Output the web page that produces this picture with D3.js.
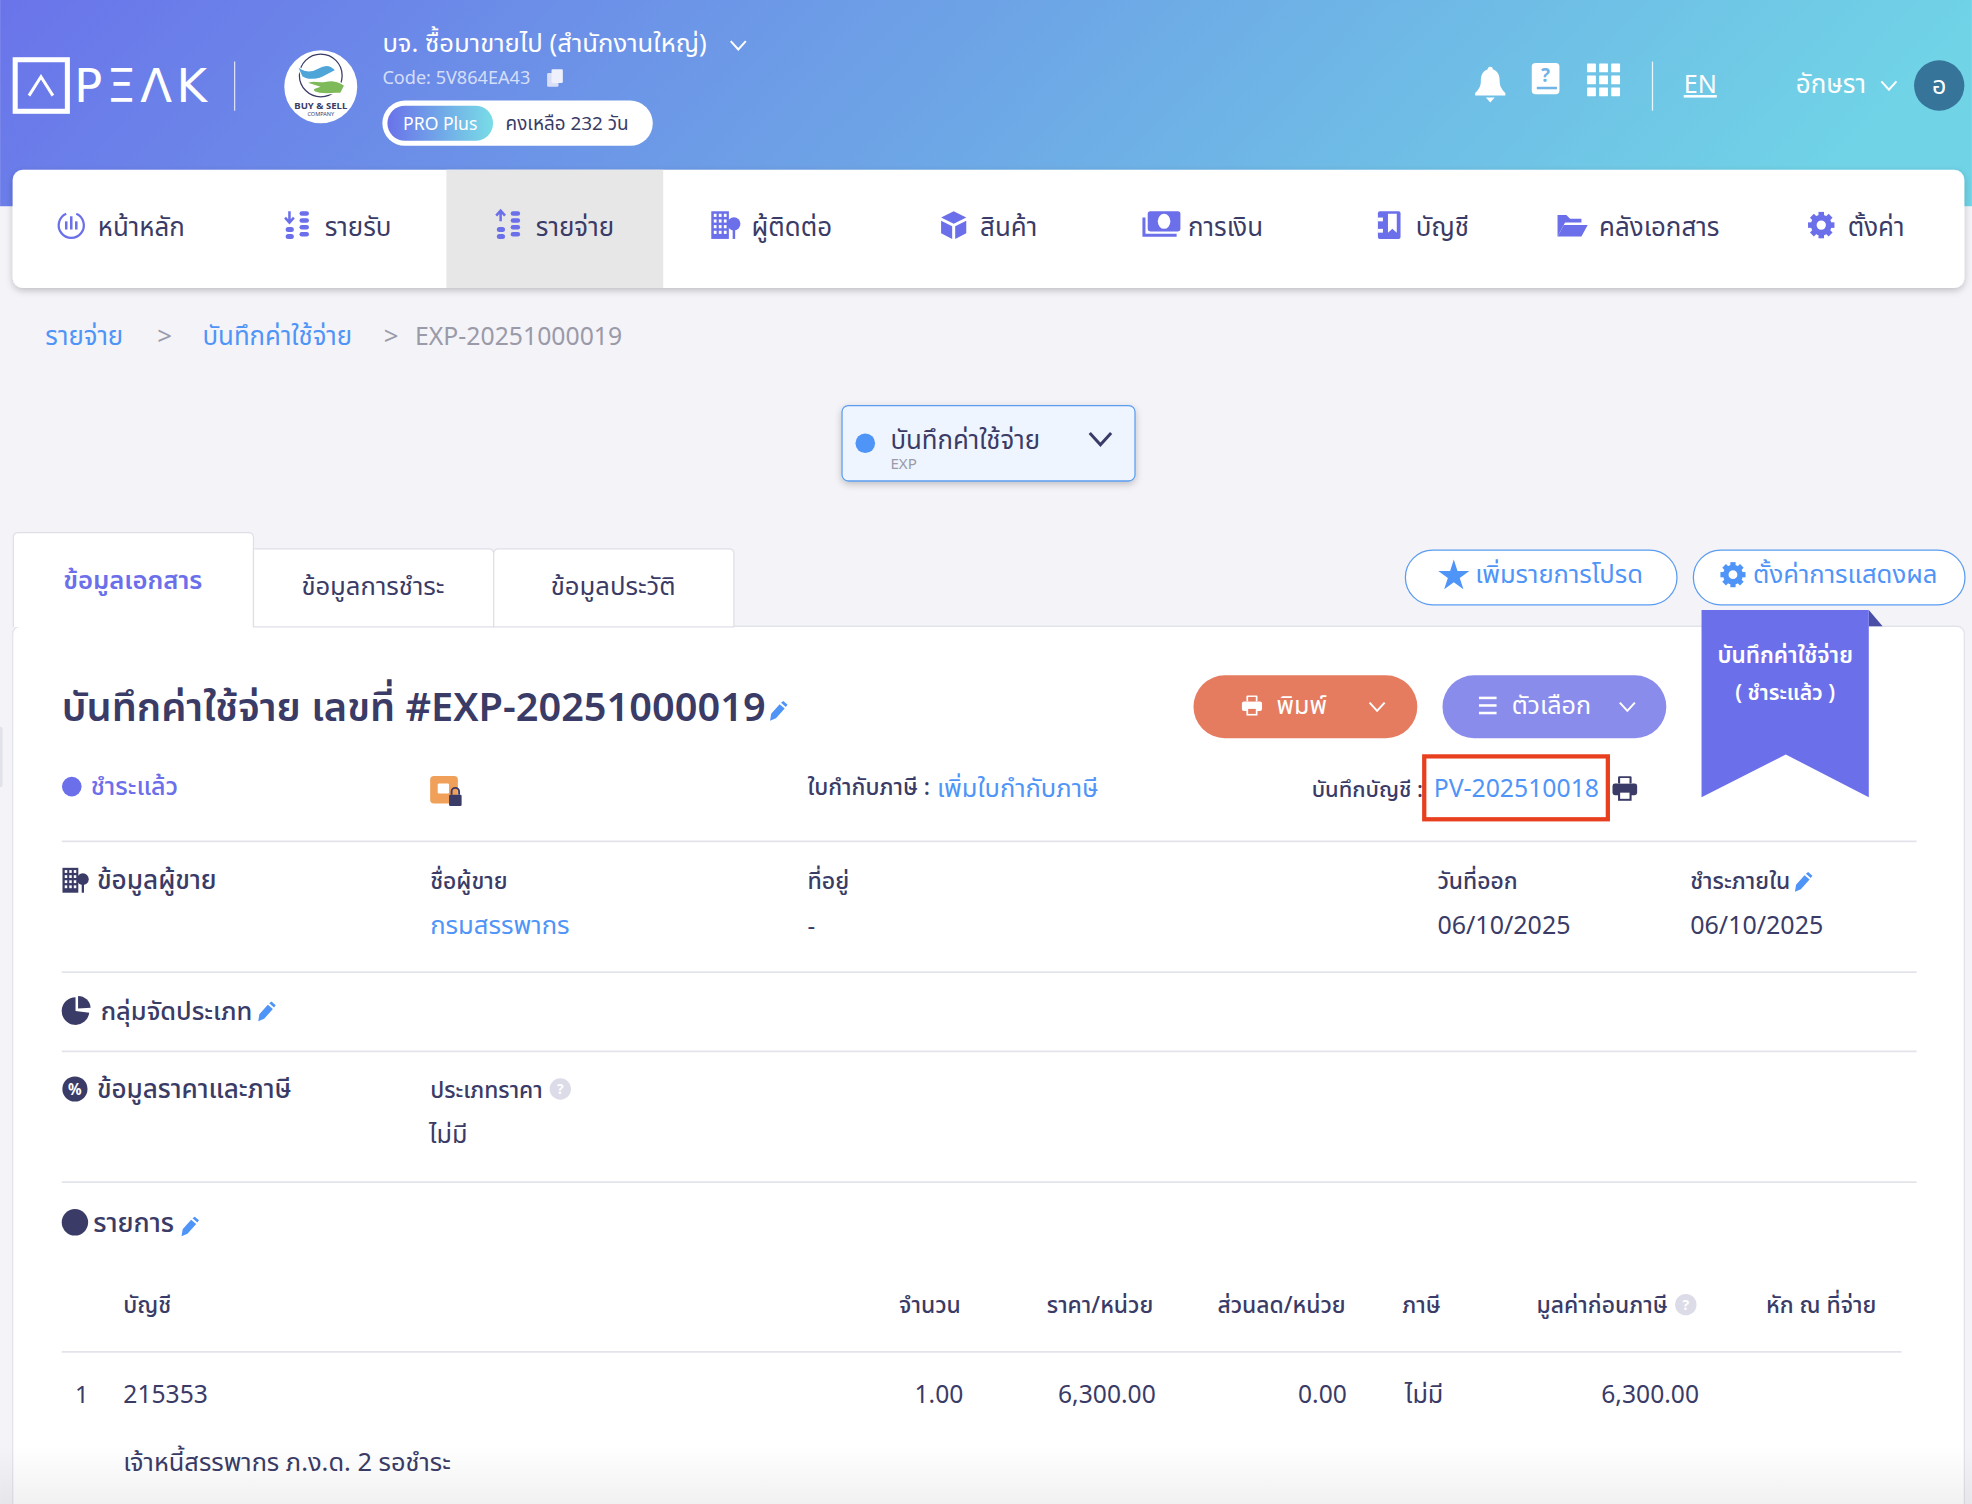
<!DOCTYPE html>
<html>
<head>
<meta charset="utf-8">
<script src="https://cdn.jsdelivr.net/npm/d3@7"></script>
<style>
html, body { margin: 0; padding: 0; background: #f3f3f8; overflow: hidden; }
svg { display: block; }
text { font-family: "Noto Sans", "Noto Sans Thai", "Open Sans", sans-serif; }
</style>
</head>
<body>
<div id="chart-area"></div>
<script>
// values
var companyName = "บจ. ซื้อมาขายไป (สำนักงานใหญ่)";
var companyCode = "Code: 5V864EA43";
var planName = "PRO Plus";
var planLeft = "คงเหลือ 232 วัน";
var navLabels = ["หน้าหลัก", "รายรับ", "รายจ่าย", "ผู้ติดต่อ", "สินค้า", "การเงิน", "บัญชี", "คลังเอกสาร", "ตั้งค่า"];
var navIcons = ["dash", "down", "up", "build", "box", "money", "book", "folder", "gear"];
var activeNav = "รายจ่าย";
var crumbs = ["รายจ่าย", ">", "บันทึกค่าใช้จ่าย", ">", "EXP-20251000019"];
var tabLabels = ["ข้อมูลเอกสาร", "ข้อมูลการชำระ", "ข้อมูลประวัติ"];
var docNo = "EXP-20251000019";
var headers = ["บัญชี", "จำนวน", "ราคา/หน่วย", "ส่วนลด/หน่วย", "ภาษี", "มูลค่าก่อนภาษี", "หัก ณ ที่จ่าย"];
var rowValues = ["215353", "1.00", "6,300.00", "0.00", "ไม่มี", "6,300.00", ""];
var rowNote = "เจ้าหนี้สรรพากร ภ.ง.ด. 2 รอชำระ";

var W = 1568, H = 1196;
var ink = "#3a3b66", blue = "#4f94f7", violet = "#6b6fea", rule = "#e3e3ec", grey = "#9a9aa8";

var svg = d3.select("#chart-area").append("svg")
    .attr("width", 1972)
    .attr("height", 1504)
    .attr("viewBox", "0 0 " + W + " " + H);

var defs = svg.append("defs");

function gradient(id, stops, x2, y2) {
    var g = defs.append("linearGradient").attr("id", id)
        .attr("x1", 0).attr("y1", 0).attr("x2", x2).attr("y2", y2);
    stops.forEach(function (s) {
        g.append("stop").attr("offset", s[0]).attr("stop-color", s[1]).attr("stop-opacity", s[2] === undefined ? 1 : s[2]);
    });
}
gradient("head", [[0, "#6a74ea"], [0.5, "#6da3e6"], [1, "#70d3e6"]], 1, 0.1);
gradient("pill", [[0, "#6a72ea"], [1, "#78dde6"]], 1, 0);
gradient("fade", [[0, "#000", 0], [1, "#000", 0.055]], 0, 1);

var shadow = defs.append("filter").attr("id", "shadow")
    .attr("x", "-5%").attr("y", "-20%").attr("width", "110%").attr("height", "140%");
shadow.append("feDropShadow").attr("dx", 0).attr("dy", 2).attr("stdDeviation", 3)
    .attr("flood-color", "#000").attr("flood-opacity", 0.22);

function label(p, x, y, txt, size, fill, anchor, weight) {
    return p.append("text")
        .attr("x", x).attr("y", y)
        .attr("font-size", size)
        .attr("fill", fill)
        .attr("text-anchor", anchor || "start")
        .attr("font-weight", weight || 400)
        .text(txt);
}

function box(p, x, y, w, h, r, fill) {
    return p.append("rect").attr("x", x).attr("y", y).attr("width", w).attr("height", h)
        .attr("rx", r).attr("fill", fill);
}

function line(p, x1, x2, y, color) {
    p.append("line").attr("x1", x1).attr("x2", x2).attr("y1", y).attr("y2", y)
        .attr("stroke", color || rule).attr("stroke-width", 1.4);
}

function chevron(p, cx, cy, s, color, sw) {
    p.append("path")
        .attr("d", "M" + (cx - s) + "," + (cy - s * 0.55) + "L" + cx + "," + (cy + s * 0.55) + "L" + (cx + s) + "," + (cy - s * 0.55))
        .attr("fill", "none").attr("stroke", color).attr("stroke-width", sw || 1.6);
}

function at(p, x, y, s) {
    return p.append("g").attr("transform", "translate(" + x + "," + y + ") scale(" + (s || 1) + ")");
}

function gear(p, x, y, s, color) {
    var g = at(p, x, y, s);
    d3.range(8).forEach(function (i) {
        g.append("rect").attr("x", -2.2).attr("y", -10.5).attr("width", 4.4).attr("height", 5)
            .attr("fill", color).attr("transform", "rotate(" + i * 45 + ")");
    });
    g.append("circle").attr("r", 6).attr("fill", "none").attr("stroke", color).attr("stroke-width", 4.6);
}

function star(p, x, y, s, color) {
    at(p, x, y, 1).append("path")
        .attr("d", d3.symbol(d3.symbolStar).size(s)())
        .attr("fill", color);
}

function printer(p, x, y, s, color, hole) {
    var g = at(p, x, y, s);
    box(g, -5.5, -10, 11, 6, 1, color);
    box(g, -10, -4, 20, 9.5, 2, color);
    box(g, -5.5, 2, 11, 8, 0, color);
    box(g, -3.8, -8.5, 7.6, 4.5, 0, hole);
    box(g, -3.8, 3.4, 7.6, 5, 0, hole);
}

function pencil(p, x, y) {
    at(p, x, y, 1.12).append("path")
        .attr("d", "M-6,6.4L-5.2,1.4L0.8,-5.4L4.4,-2.4L-1.8,4.6ZM1.8,-6.4L3.4,-7.6L6.4,-5L5.2,-3.4Z")
        .attr("fill", blue);
}

function help(p, x, y) {
    p.append("circle").attr("cx", x).attr("cy", y).attr("r", 8.5).attr("fill", "#dcdce8");
    label(p, x, y + 4, "?", 11, "#fff", "middle", 700);
}

function building(p, x, y, s, color) {
    var g = at(p, x, y, s);
    g.append("path")
        .attr("d", "M-11,-11H3V11H-11Z")
        .attr("fill", color);
    d3.range(3).forEach(function (c) {
        d3.range(4).forEach(function (r) {
            box(g, -9 + c * 4, -9 + r * 4.5, 2.2, 2.5, 0, "#fff");
        });
    });
    g.append("circle").attr("cx", 7).attr("cy", -1).attr("r", 5.2).attr("fill", color);
    box(g, 6, 2, 2, 9, 0, color);
}

var icons = {
    dash: function (g) {
        g.append("path").attr("d", "M-4,-9A10,10 0 1 0 4,-9").attr("fill", "none").attr("stroke", violet).attr("stroke-width", 1.8);
        [[-4, 3], [0, 7], [4, 3]].forEach(function (b) {
            box(g, b[0] - 1, -b[1], 2, b[1] + 3.5, 0, violet);
        });
    },
    down: function (g) { stacks(g, 1); },
    up: function (g) { stacks(g, -1); },
    build: function (g) { building(g, 0, 0, 1, violet); },
    box: function (g) {
        g.append("path").attr("d", "M0,-11L10,-6L0,-1L-10,-6Z").attr("fill", violet);
        g.append("path").attr("d", "M-10,-3.5L-1.2,1V11L-10,6.5ZM10,-3.5L1.2,1V11L10,6.5Z").attr("fill", violet);
    },
    money: function (g) {
        box(g, -11, -11, 26, 16, 2, violet);
        g.append("ellipse").attr("cx", 2).attr("cy", -3).attr("rx", 5).attr("ry", 6).attr("fill", "#fff");
        g.append("path").attr("d", "M-14,-6V8H12").attr("fill", "none").attr("stroke", violet).attr("stroke-width", 2.4);
    },
    book: function (g) {
        box(g, -9, -11, 18, 22, 1.5, violet);
        g.append("path").attr("d", "M-1,-9H6V6L2.5,3L-1,6Z").attr("fill", "#fff");
        box(g, -9, -6, 4, 3, 0, "#fff");
        box(g, -9, 3, 4, 3, 0, "#fff");
    },
    folder: function (g) {
        g.append("path").attr("d", "M-12,9V-8H-5L-2,-5H7V-2H-6L-12,9Z").attr("fill", violet);
        g.append("path").attr("d", "M-7,0H12L7,9H-12Z").attr("fill", violet);
    },
    gear: function (g) { gear(g, 0, 0, 1, violet); }
};

function stacks(g, dir) {
    g.append("path")
        .attr("d", dir > 0 ? "M-7,-11V-3M-10.5,-6L-7,-2L-3.5,-6" : "M-7,-3V-11M-10.5,-7.5L-7,-11.5L-3.5,-7.5")
        .attr("fill", "none").attr("stroke", violet).attr("stroke-width", 2);
    [1.5, 7].forEach(function (y) { box(g, -10, y, 6.5, 4, 2, violet); });
    [-11, -5.5, 0, 5.5].forEach(function (y) { box(g, 1, y, 7.5, 3.6, 1.8, violet); });
}

// header band
svg.append("rect").attr("width", W).attr("height", 164).attr("fill", "url(#head)");

// logo
var logo = svg.append("g");
logo.append("rect").attr("x", 12).attr("y", 47.5).attr("width", 41.5).attr("height", 41)
    .attr("fill", "none").attr("stroke", "#fff").attr("stroke-width", 4);
logo.append("path").attr("d", "M23,76L32.5,61L42,76").attr("fill", "none").attr("stroke", "#fff").attr("stroke-width", 2.4);
label(logo, 59, 81, "PΞΛK", 37, "#fff").attr("letter-spacing", 3.4).style("font-family", "DejaVu Sans");
logo.append("line").attr("x1", 186.5).attr("x2", 186.5).attr("y1", 49).attr("y2", 88).attr("stroke", "#fff").attr("stroke-opacity", 0.75);

// company badge
var badge = at(svg, 255, 69, 1);
badge.append("circle").attr("r", 29).attr("fill", "#fff");
badge.append("circle").attr("cy", -9).attr("r", 17).attr("fill", "none").attr("stroke", "#3a3b66").attr("stroke-width", 1);
badge.append("path").attr("d", "M-19,-17C-13,-11 -7,-12 -2,-15C3,-18 8,-18 12,-13L4,-9C-2,-5 -11,-5 -15,-8Z")
    .attr("fill", "#4fa4d8").attr("stroke", "#fff").attr("stroke-width", 1);
badge.append("path").attr("d", "M19,-1C13,-6 7,-5 2,-4C-3,-4 -8,-6 -11,-3L-2,0C-6,1 -7,2 -5,4C1,7 12,5 16,5Z")
    .attr("fill", "#7fba5a").attr("stroke", "#fff").attr("stroke-width", 1);
label(badge, 0, 17.5, "BUY & SELL", 7.6, ink, "middle", 700);
label(badge, 0, 23.5, "COMPANY", 4.4, ink, "middle", 400);

// company text
label(svg, 304, 41, companyName, 20.4, "#fff");
chevron(svg, 587, 36, 6, "#fff", 1.6);
label(svg, 304, 67, companyCode, 14.4, "#fff").attr("fill-opacity", 0.72);
var copy = at(svg, 441, 62, 1);
box(copy, -6, -4, 9, 11, 1, "#d9dff7");
box(copy, -2.5, -7, 9, 11, 1, "#eef1fb");
box(svg, 304, 80, 215, 36, 18, "#fff");
box(svg, 308, 84, 84, 28, 14, "url(#pill)");
label(svg, 350, 103, planName, 14, "#fff", "middle");
label(svg, 402, 103, planLeft, 15, ink);

// right of header
var bell = at(svg, 1185, 66, 1);
bell.append("path").attr("d", "M0,-13C1.5,-13 2,-12 2,-11C7,-9 7.5,-5 7.5,-1C7.5,3 10,6 12,8V10H-12V8C-10,6 -7.5,3 -7.5,-1C-7.5,-5 -7,-9 -2,-11C-2,-12 -1.5,-13 0,-13Z").attr("fill", "#fff");
bell.append("path").attr("d", "M-3.5,11.5H3.5L0,15.5Z").attr("fill", "#fff");
var guide = at(svg, 1229, 62, 1);
box(guide, -11, -12, 22, 25, 3, "#fff");
box(guide, -7, 7, 16, 2, 0, "#71b4e6");
label(guide, 0, 3, "?", 15, "#71b4e6", "middle", 700);
var apps = at(svg, 1275, 63, 1);
d3.range(3).forEach(function (c) {
    d3.range(3).forEach(function (r) {
        box(apps, -13 + c * 9.6, -12.5 + r * 9.5, 7, 7, 0.5, "#fff");
    });
});
svg.append("line").attr("x1", 1314).attr("x2", 1314).attr("y1", 49).attr("y2", 88).attr("stroke", "#fff").attr("stroke-opacity", 0.85);
label(svg, 1352, 74, "EN", 20, "#fff", "middle").attr("text-decoration", "underline");
label(svg, 1428, 74, "อักษรา", 20.6, "#fff");
chevron(svg, 1502, 68, 6, "#fff", 1.6);
svg.append("circle").attr("cx", 1542).attr("cy", 68).attr("r", 20).attr("fill", "#36749a");
label(svg, 1542, 75, "อ", 20, "#fff", "middle");

// nav bar, one band per item
var navX = d3.scaleBand().domain(navLabels).range([10, 1562]);
var iconOf = d3.scaleOrdinal().domain(navLabels).range(navIcons);

box(svg, 10, 135, 1552, 94, 8, "#fff").attr("filter", "url(#shadow)");
box(svg, navX(activeNav), 135, navX.bandwidth(), 94, 0, "#e7e7e8");

var nav = svg.selectAll("g.nav").data(navLabels).enter().append("g")
    .attr("class", "nav")
    .attr("transform", function (d) { return "translate(" + (navX(d) + navX.bandwidth() / 2) + ",180)"; });

nav.each(function (d) {
    var g = d3.select(this);
    var t = label(g, 0, 8, d, 20.6, ink);
    var w = t.node().getComputedTextLength();
    var gap = 21;
    var total = w + gap + 11;
    t.attr("x", -total / 2 + gap + 11);
    icons[iconOf(d)](at(g, -total / 2 + 11, -1, 1));
});

// breadcrumb
var crumbX = d3.scaleOrdinal().domain(d3.range(crumbs.length)).range([36, 125, 161, 305, 330]);
svg.selectAll("text.crumb").data(crumbs).enter().append("text")
    .attr("class", "crumb")
    .attr("x", function (d, i) { return crumbX(i); })
    .attr("y", 274)
    .attr("font-size", function (d, i) { return i == 4 ? 19.7 : 20.5; })
    .attr("fill", function (d, i) { return i == 0 || i == 2 ? blue : grey; })
    .text(function (d) { return d; });

// document type select
box(svg, 669.5, 322.5, 233, 60, 5, "#eef5fe").attr("stroke", "#5b9cf0").attr("filter", "url(#shadow)");
svg.append("circle").attr("cx", 688).attr("cy", 352.5).attr("r", 7.8).attr("fill", blue);
label(svg, 708, 357, "บันทึกค่าใช้จ่าย", 20.5, ink);
label(svg, 708, 373, "EXP", 12, grey);
chevron(svg, 875, 349, 8.5, ink, 2.4);

// tabs
var tabX = d3.scaleBand().domain(tabLabels).range([10, 583]);
box(svg, 10, 498, 1552, 720, 6, "#fff").attr("stroke", "#e3e3ec");
tabLabels.forEach(function (d, i) {
    var active = i == 0;
    var top = active ? 423 : 436;
    var x0 = tabX(d) + 0.5, x1 = tabX(d) + tabX.bandwidth() + 0.5;
    var rl = i == 1 ? 0 : 4, rr = 4;
    svg.append("path")
        .attr("d", "M" + x0 + ",498.5V" + (top + rl + 0.5) + "Q" + x0 + "," + (top + 0.5) + " " + (x0 + rl) + "," + (top + 0.5) +
            "H" + (x1 - rr) + "Q" + x1 + "," + (top + 0.5) + " " + x1 + "," + (top + rr + 0.5) + "V498.5" + (active ? "" : "Z"))
        .attr("fill", "#fff").attr("stroke", "#dfdfe8");
    label(svg, tabX(d) + tabX.bandwidth() / 2, active ? 468 : 473, d, 20.4, active ? violet : ink, "middle", active ? 600 : 400);
});

// outline buttons
box(svg, 1117.5, 437.5, 216, 43.5, 21.7, "#fff").attr("stroke", "#5b9cf0");
star(svg, 1156, 458, 190, blue);
label(svg, 1173, 464, "เพิ่มรายการโปรด", 20.3, blue);
box(svg, 1346.5, 437.5, 216, 43.5, 21.7, "#fff").attr("stroke", "#5b9cf0");
gear(svg, 1378, 457, 0.95, blue);
label(svg, 1394, 464, "ตั้งค่าการแสดงผล", 20.4, blue);

// ribbon
svg.append("path").attr("d", "M1486,485L1497,498H1486Z").attr("fill", "#4a4ea6");
svg.append("path").attr("d", "M1353,485H1486V634L1420,600L1353,634Z").attr("fill", violet);
label(svg, 1419.5, 527, "บันทึกค่าใช้จ่าย", 17.9, "#fff", "middle", 600);
label(svg, 1419.5, 557, "( ชำระแล้ว )", 16.8, "#fff", "middle", 600);

// title row
label(svg, 49, 573, "บันทึกค่าใช้จ่าย เลขที่ #" + docNo, 31.6, ink, "start", 600);
pencil(svg, 619, 566);

box(svg, 949, 537, 178, 50, 25, "#e57b5f");
printer(svg, 995.5, 561, 0.8, "#fff", "#e57b5f");
label(svg, 1015, 568, "พิมพ์", 20, "#fff");
chevron(svg, 1095, 562, 6, "#fff", 1.6);
box(svg, 1147, 537, 178, 50, 25, "#8a8cec");
[555, 561, 567].forEach(function (y) { box(svg, 1176, y - 1, 14, 2, 0, "#fff"); });
label(svg, 1202, 568, "ตัวเลือก", 20, "#fff");
chevron(svg, 1294, 562, 6, "#fff", 1.6);

// status row
svg.append("circle").attr("cx", 57).attr("cy", 625.5).attr("r", 7.8).attr("fill", violet);
label(svg, 72, 632, "ชำระแล้ว", 20, violet, "start", 500);
box(svg, 342, 617, 22, 22, 3, "#f0a058");
box(svg, 348, 623, 9, 8, 1, "#fff");
box(svg, 357, 632, 10, 9, 1, ink);
svg.append("path").attr("d", "M359,632V629.5A3,3 0 0 1 365,629.5V632").attr("fill", "none").attr("stroke", ink).attr("stroke-width", 1.5);
label(svg, 642, 632, "ใบกำกับภาษี :", 18.2, ink, "start", 500);
label(svg, 745, 634, "เพิ่มใบกำกับภาษี", 20.3, blue);
label(svg, 1043, 634, "บันทึกบัญชี :", 17.4, ink, "start", 500);
label(svg, 1140, 634, "PV-202510018", 19.7, blue);
svg.append("rect").attr("x", 1132.5).attr("y", 601.5).attr("width", 146).attr("height", 50)
    .attr("fill", "none").attr("stroke", "#e8401f").attr("stroke-width", 3.4);
printer(svg, 1292, 627, 0.98, ink, "#fff");

// section rules
[669, 773, 836, 940].forEach(function (y) { line(svg, 49, 1524, y); });

// seller
building(svg, 59.5, 700, 0.9, ink);
label(svg, 77, 707, "ข้อมูลผู้ขาย", 20.8, ink, "start", 500);
label(svg, 342, 707, "ชื่อผู้ขาย", 18.2, ink, "start", 500);
label(svg, 342, 743, "กรมสรรพากร", 20.4, blue);
label(svg, 642, 707, "ที่อยู่", 18.4, ink, "start", 500);
label(svg, 642, 743, "-", 19, ink);
label(svg, 1143, 707, "วันที่ออก", 18.2, ink, "start", 500);
label(svg, 1143, 743, "06/10/2025", 19.9, ink);
label(svg, 1344, 707, "ชำระภายใน", 18.2, ink, "start", 500);
pencil(svg, 1434, 702);
label(svg, 1344, 743, "06/10/2025", 19.9, ink);

// categories
svg.append("path").attr("d", d3.arc().innerRadius(0).outerRadius(11)({ startAngle: 1.7, endAngle: 6.28 }))
    .attr("transform", "translate(60,804)").attr("fill", ink);
svg.append("path").attr("d", d3.arc().innerRadius(0).outerRadius(10)({ startAngle: 0, endAngle: 1.5 }))
    .attr("transform", "translate(62,802)").attr("fill", ink);
label(svg, 80, 811, "กลุ่มจัดประเภท", 20.2, ink, "start", 500);
pencil(svg, 212, 805);

// price and tax
svg.append("circle").attr("cx", 59.5).attr("cy", 866).attr("r", 10).attr("fill", ink);
label(svg, 59.5, 871, "%", 12, "#fff", "middle", 700);
label(svg, 77, 873, "ข้อมูลราคาและภาษี", 20.7, ink, "start", 500);
label(svg, 342, 873, "ประเภทราคา", 18.1, ink, "start", 500);
help(svg, 445.5, 866);
label(svg, 341, 909, "ไม่มี", 20, ink);

// items
svg.append("circle").attr("cx", 59.5).attr("cy", 972).attr("r", 10.5).attr("fill", ink);
label(svg, 74, 980, "รายการ", 21.2, ink, "start", 500);
pencil(svg, 151, 976);

var colX = d3.scaleOrdinal().domain(headers).range([98, 764, 917, 1070, 1115, 1326, 1492]);
var colAnchor = d3.scaleOrdinal().domain(headers).range(["start", "end", "end", "end", "start", "end", "end"]);
var valX = d3.scaleOrdinal().domain(headers).range([98, 766, 919, 1071, 1117, 1351, 1492]);

svg.selectAll("text.head").data(headers).enter().append("text")
    .attr("class", "head")
    .attr("x", function (d) { return colX(d); })
    .attr("y", 1044)
    .attr("font-size", 18.2)
    .attr("font-weight", 500)
    .attr("fill", ink)
    .attr("text-anchor", function (d) { return colAnchor(d); })
    .text(function (d) { return d; });
help(svg, 1340.5, 1037.5);
line(svg, 49, 1512, 1075);

label(svg, 65, 1116, "1", 19, ink, "middle");
svg.selectAll("text.cell").data(rowValues).enter().append("text")
    .attr("class", "cell")
    .attr("x", function (d, i) { return valX(headers[i]); })
    .attr("y", 1116)
    .attr("font-size", function (d, i) { return i == 4 ? 20 : 19.6; })
    .attr("fill", ink)
    .attr("text-anchor", function (d, i) { return colAnchor(headers[i]); })
    .text(function (d) { return d; });
label(svg, 98, 1170, rowNote, 20.2, ink);

// sliver of a panel handle at the left window edge
box(svg, -2, 578, 4, 48, 2, "#e2e2ea");

// fade at the bottom edge
svg.append("rect").attr("x", 0).attr("y", 1150).attr("width", W).attr("height", 46).attr("fill", "url(#fade)");
</script>
</body>
</html>
